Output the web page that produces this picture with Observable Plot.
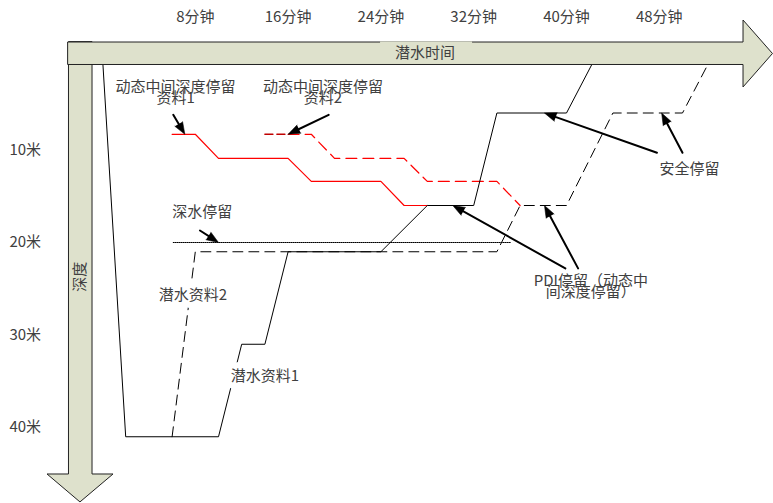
<!DOCTYPE html>
<html><head><meta charset="utf-8">
<script src="https://cdn.jsdelivr.net/npm/d3@7"></script>
<script src="https://cdn.jsdelivr.net/npm/@observablehq/plot@0.6"></script>
<style>html,body{margin:0;padding:0;background:#fff;} svg{display:block}</style>
</head><body><div id="chart"></div>
<script>
// ---- tick labels ----
const timeTicks = [8, 16, 24, 32, 40, 48];
const timeTickLabels = ["8分钟", "16分钟", "24分钟", "32分钟", "40分钟", "48分钟"];
const depthTicks = [10, 20, 30, 40];
const depthTickLabels = ["10米", "20米", "30米", "40米"];

// ---- dive profiles (minutes, metres) ----
const profile1Time  = [0, 2, 10, 12, 14, 16, 24, 28, 32, 34, 40, 42.5];
const profile1Depth = [0, 41, 41, 31, 31, 21, 21, 16, 16, 6, 6, 0];
const profile2Time  = [6, 8, 34, 36, 40, 44, 50, 52.5];
const profile2Depth = [41, 21, 21, 16, 16, 6, 6, 0];
const pdis1Time  = [6, 8, 10, 16, 18, 24, 26, 28];
const pdis1Depth = [8.3, 8.3, 10.9, 10.9, 13.4, 13.4, 16, 16];
const pdis2LeadTime  = [14, 16];
const pdis2LeadDepth = [8.3, 8.3];
const pdis2Time  = [16, 18, 20, 26, 28, 34, 36];
const pdis2Depth = [8.3, 8.3, 10.9, 10.9, 13.4, 13.4, 16];
const deepStopTime  = [6.1, 35.2];
const deepStopDepth = [20, 20];

// ---- annotations ----
const noteLabels = ["动态中间深度停留\n资料1", "动态中间深度停留\n资料2", "深水停留", "安全停留", "PDI停留（动态中\n间深度停留）"];
const noteTime  = [6.3, 19.0, 8.6, 50.6, 42.1];
const noteDepth = [3.95, 3.95, 16.9, 12.2, 24.9];
const profileLabels = ["潜水资料1", "潜水资料2"];
const profileLabelTime  = [14.0, 7.8];
const profileLabelDepth = [34.4, 25.7];
const arrowFromTime  = [6.1, 19.5, 8.4, 47.8, 50.0, 39.9, 41.0];
const arrowFromDepth = [6.2, 6.2, 18.7, 10.3, 10.3, 22.8, 22.8];
const arrowToTime    = [7.1, 16.0, 10.0, 38.1, 48.2, 30.2, 38.1];
const arrowToDepth   = [8.3, 8.3, 20.0, 6.0, 6.0, 16.0, 16.0];

// ---- build tables ----
const zip = (ts, ds) => ts.map((t, i) => ({t, d: ds[i]}));
const p1 = zip(profile1Time, profile1Depth);
const p2 = zip(profile2Time, profile2Depth);
const r1 = zip(pdis1Time, pdis1Depth);
const r2lead = zip(pdis2LeadTime, pdis2LeadDepth);
const r2 = zip(pdis2Time, pdis2Depth);
const deep = zip(deepStopTime, deepStopDepth);
const tTicks = timeTicks.map((t, i) => ({t, label: timeTickLabels[i]}));
const dTicks = depthTicks.map((d, i) => ({d, label: depthTickLabels[i]}));
const notes = noteLabels.map((s, i) => ({s, t: noteTime[i], d: noteDepth[i]}));
const pNotes = profileLabels.map((s, i) => ({s, t: profileLabelTime[i], d: profileLabelDepth[i]}));

const W = 773, H = 503;
const xOpts = {domain: [-8.7931, 57.8448], range: [0, W]};
const yOpts = {domain: [-6.1622, 48.2162], range: [0, H]};
const xs = Plot.scale({x: xOpts});
const ys = Plot.scale({y: yOpts});
const arrows = arrowFromTime.map((t, i) => {
  const dx = xs.apply(arrowToTime[i]) - xs.apply(t);
  const dy = ys.apply(arrowToDepth[i]) - ys.apply(arrowFromDepth[i]);
  return {t1: t, d1: arrowFromDepth[i], t2: arrowToTime[i], d2: arrowToDepth[i],
          rot: Math.atan2(dx, -dy) * 180 / Math.PI};
});

// ---- frame arrows (decoration, in data units) ----
const hArrow = [
  {x: -2.93, y1: -1.62, y2: 0.81},
  {x: 55.26, y1: -1.62, y2: 0.81},
  {x: 55.26, y1: -4.0, y2: 3.24},
  {x: 57.8, y1: -0.38, y2: -0.38}
];
const vArrow = [
  {y: -1.62, x1: -2.89, x2: -0.86},
  {y: 45.08, x1: -2.89, x2: -0.86},
  {y: 45.08, x1: -4.74, x2: 0.95},
  {y: 48.1, x1: -1.9, x2: -1.9}
];
const arrowFill = "#dee1cc";
const FONT = "'Noto Sans CJK SC', 'Noto Sans', sans-serif";
const TXT = "#404040";

const chart = Plot.plot({
  width: W, height: H, margin: 0,
  x: {...xOpts, axis: null},
  y: {...yOpts, axis: null},
  style: {background: "white", fontFamily: FONT},
  marks: [
    Plot.line(deep, {x: "t", y: "d", stroke: "#000", strokeWidth: 1, strokeDasharray: "1,1"}),
    Plot.line(r2lead, {x: "t", y: "d", stroke: "#c00000", strokeWidth: 1.5, strokeDasharray: "8,4"}),
    Plot.line(r2, {x: "t", y: "d", stroke: "#ff0000", strokeWidth: 1.2, strokeDasharray: "11,6"}),
    Plot.line(r1, {x: "t", y: "d", stroke: "#ff0000", strokeWidth: 1.2}),
    Plot.line(p2, {x: "t", y: "d", stroke: "#000", strokeWidth: 1, strokeDasharray: "10,6"}),
    Plot.line(p1, {x: "t", y: "d", stroke: "#000", strokeWidth: 1}),
    // annotation arrows
    Plot.arrow(arrows, {x1: "t1", y1: "d1", x2: "t2", y2: "d2", stroke: "#000", strokeWidth: 2, headLength: 0, insetEnd: 7}),
    Plot.vector(arrows, {x: "t2", y: "d2", rotate: "rot", length: 12, r: 4.5, shape: "spike", anchor: "end", fill: "#000", stroke: "#000", strokeWidth: 0.5}),
    // frame arrows
    Plot.areaX(vArrow, {y: "y", x1: "x1", x2: "x2", fill: arrowFill, stroke: "#222", strokeWidth: 1}),
    Plot.areaY(hArrow, {x: "x", y1: "y1", y2: "y2", fill: arrowFill, stroke: "#222", strokeWidth: 1}),
    Plot.rect([{x1: 23.97, x2: 31.9, y1: -1.68, y2: -1.3}], {x1: "x1", x2: "x2", y1: "y1", y2: "y2", fill: arrowFill}),
    Plot.text(["潜水时间"], {x: 27.8, y: -0.43, text: d => d, fill: TXT, fontSize: 15, fontFamily: FONT}),
    Plot.text(["深度"], {x: -1.9, y: 23.7, text: d => d, rotate: -90, fill: TXT, fontSize: 15, fontFamily: FONT}),
    // tick labels
    Plot.text(tTicks, {x: "t", y: -4.32, text: "label", fill: TXT, fontSize: 15, fontFamily: FONT}),
    Plot.text(dTicks, {x: -8.02, y: "d", text: "label", textAnchor: "start", fill: TXT, fontSize: 15, fontFamily: FONT}),
    // annotation labels
    Plot.text(notes, {x: "t", y: "d", text: "s", lineHeight: 0.73, fill: TXT, fontSize: 15, fontFamily: FONT}),
    Plot.text(pNotes, {x: "t", y: "d", text: "s", fill: TXT, stroke: "white", strokeWidth: 12, paintOrder: "stroke", fontSize: 15, fontFamily: FONT})
  ]
});
document.getElementById("chart").appendChild(chart);
</script>
</body></html>
